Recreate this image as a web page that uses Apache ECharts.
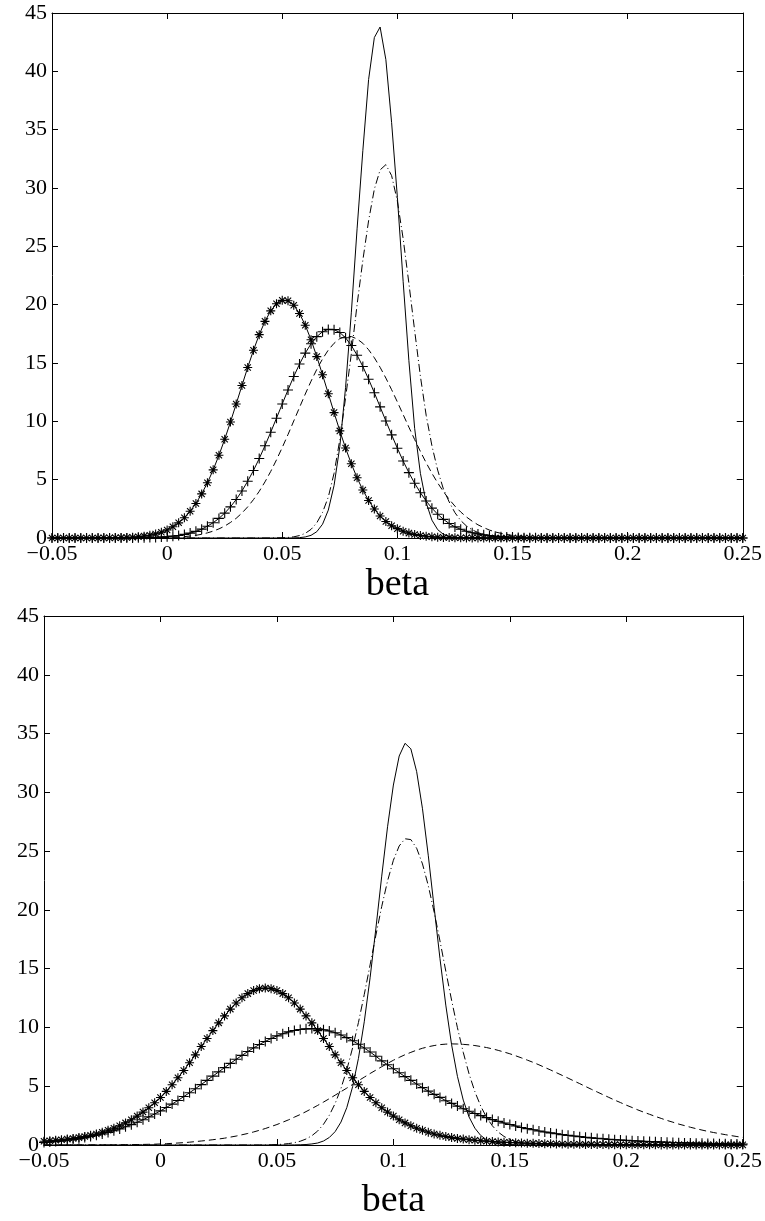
<!DOCTYPE html>
<html>
<head>
<meta charset="utf-8">
<script src="https://cdn.jsdelivr.net/npm/echarts@6/dist/echarts.min.js"></script>
<style>
html,body{margin:0;padding:0;background:#fff;}
#chart{width:765px;height:1221px;}
</style>
</head>
<body>
<div id="chart"></div>
<script>
// sample positions (beta)
const betaGrid = [
-0.05,-0.0475,-0.045,-0.0425,-0.04,-0.0375,-0.035,-0.0325,-0.03,-0.0275,
-0.025,-0.0225,-0.02,-0.0175,-0.015,-0.0125,-0.01,-0.0075,-0.005,-0.0025,
0,0.0025,0.005,0.0075,0.01,0.0125,0.015,0.0175,0.02,0.0225,
0.025,0.0275,0.03,0.0325,0.035,0.0375,0.04,0.0425,0.045,0.0475,
0.05,0.0525,0.055,0.0575,0.06,0.0625,0.065,0.0675,0.07,0.0725,
0.075,0.0775,0.08,0.0825,0.085,0.0875,0.09,0.0925,0.095,0.0975,
0.1,0.1025,0.105,0.1075,0.11,0.1125,0.115,0.1175,0.12,0.1225,
0.125,0.1275,0.13,0.1325,0.135,0.1375,0.14,0.1425,0.145,0.1475,
0.15,0.1525,0.155,0.1575,0.16,0.1625,0.165,0.1675,0.17,0.1725,
0.175,0.1775,0.18,0.1825,0.185,0.1875,0.19,0.1925,0.195,0.1975,
0.2,0.2025,0.205,0.2075,0.21,0.2125,0.215,0.2175,0.22,0.2225,
0.225,0.2275,0.23,0.2325,0.235,0.2375,0.24,0.2425,0.245,0.2475,
0.25];

const xTicks = [-0.05, 0, 0.05, 0.1, 0.15, 0.2, 0.25];
const yTicks = [0, 5, 10, 15, 20, 25, 30, 35, 40, 45];

// ---------- top panel ----------
const topStar = [
0,0,0,0,0,0,0,0,0,0.01,
0.01,0.02,0.03,0.05,0.07,0.11,0.16,0.24,0.35,0.49,
0.69,0.96,1.30,1.74,2.29,2.96,3.78,4.73,5.84,7.09,
8.46,9.94,11.49,13.07,14.62,16.09,17.43,18.57,19.47,20.08,
20.37,20.34,19.95,19.24,18.24,16.99,15.55,13.99,12.37,10.75,
9.18,7.71,6.36,5.16,4.11,3.22,2.48,1.88,1.42,1.05,
0.80,0.58,0.42,0.30,0.21,0.15,0.10,0.07,0.05,0.04,
0.02,0.02,0.01,0.01,0.01,0,0,0,0,0,
0,0,0,0,0,0,0,0,0,0,
0,0,0,0,0,0,0,0,0,0,
0,0,0,0,0,0,0,0,0,0,
0,0,0,0,0,0,0,0,0,0,
0];
const topPlus = [
0,0,0,0,0,0,0,0,0,0,
0,0,0,0.01,0.01,0.02,0.02,0.04,0.05,0.08,
0.11,0.16,0.22,0.31,0.42,0.57,0.76,1.01,1.31,1.68,
2.13,2.67,3.30,4.03,4.87,5.79,6.81,7.91,9.07,10.27,
11.49,12.69,13.84,14.91,15.85,16.65,17.26,17.68,17.88,17.86,
17.61,17.16,16.50,15.67,14.70,13.61,12.45,11.24,10.03,8.84,
7.69,6.60,5.60,4.69,3.88,3.17,2.56,2.04,1.60,1.24,
0.95,0.75,0.58,0.45,0.35,0.27,0.20,0.15,0.11,0.08,
0.06,0.04,0.03,0.02,0.02,0.01,0.01,0.01,0,0,
0,0,0,0,0,0,0,0,0,0,
0,0,0,0,0,0,0,0,0,0,
0,0,0,0,0,0,0,0,0,0,
0];
const topDashed = [
0,0,0,0,0,0,0,0,0,0,
0,0,0,0,0,0,0.01,0.01,0.02,0.03,
0.04,0.06,0.08,0.12,0.17,0.23,0.32,0.44,0.59,0.78,
1.02,1.33,1.69,2.14,2.67,3.29,4.00,4.81,5.71,6.70,
7.76,8.87,10.03,11.19,12.34,13.44,14.45,15.35,16.11,16.69,
17.09,17.28,17.27,17.06,16.69,16.14,15.45,14.63,13.71,12.71,
11.66,10.58,9.50,8.44,7.42,6.45,5.55,4.72,3.98,3.31,
2.73,2.23,1.80,1.44,1.13,0.89,0.68,0.52,0.40,0.30,
0.22,0.16,0.12,0.08,0.06,0.04,0.03,0.02,0.01,0.01,
0,0,0,0,0,0,0,0,0,0,
0,0,0,0,0,0,0,0,0,0,
0,0,0,0,0,0,0,0,0,0,
0];
const topSolid = [
0,0,0,0,0,0,0,0,0,0,
0,0,0,0,0,0,0,0,0,0,
0,0,0,0,0,0,0,0,0,0,
0,0,0,0,0,0,0,0,0,0,
0,0,0.01,0.03,0.09,0.23,0.54,1.18,2.39,4.50,
7.83,12.9,19.3,26.5,33.2,39.3,42.9,43.8,41.0,35.6,
29.2,22.0,15.2,9.4,5.54,3.03,1.53,0.72,0.31,0.13,
0.05,0.02,0.01,0,0,0,0,0,0,0,
0,0,0,0,0,0,0,0,0,0,
0,0,0,0,0,0,0,0,0,0,
0,0,0,0,0,0,0,0,0,0,
0,0,0,0,0,0,0,0,0,0,
0];
const topDashDot = [
0,0,0,0,0,0,0,0,0,0,
0,0,0,0,0,0,0,0,0,0,
0,0,0,0,0,0,0,0,0,0,
0,0,0,0,0,0,0,0,0,0.01,
0.02,0.05,0.10,0.21,0.40,0.74,1.30,2.19,3.51,5.54,
8.43,12.0,15.8,20.0,23.8,27.2,29.9,31.55,32.0,31.06,
28.87,25.67,21.84,17.78,13.86,10.52,7.91,5.82,4.19,3.09,
2.17,1.50,1.03,0.70,0.47,0.29,0.19,0.12,0.08,0.05,
0.03,0.02,0.01,0,0,0,0,0,0,0,
0,0,0,0,0,0,0,0,0,0,
0,0,0,0,0,0,0,0,0,0,
0,0,0,0,0,0,0,0,0,0,
0];

// ---------- bottom panel ----------
const botStar = [
0.32,0.36,0.40,0.45,0.50,0.56,0.63,0.72,0.83,0.94,
1.08,1.25,1.42,1.64,1.88,2.15,2.46,2.80,3.17,3.59,
4.04,4.56,5.13,5.72,6.34,7.00,7.67,8.38,9.06,9.73,
10.39,10.98,11.56,12.08,12.52,12.88,13.14,13.30,13.35,13.30,
13.14,12.88,12.52,12.08,11.56,10.98,10.39,9.73,9.06,8.38,
7.67,7.00,6.34,5.72,5.13,4.56,4.04,3.59,3.17,2.80,
2.46,2.15,1.88,1.64,1.42,1.25,1.08,0.94,0.83,0.72,
0.63,0.56,0.50,0.45,0.40,0.36,0.32,0.29,0.26,0.23,
0.21,0.19,0.17,0.15,0.14,0.12,0.11,0.10,0.09,0.08,
0.07,0.06,0.06,0.05,0.05,0.04,0.04,0.03,0.03,0.03,
0.02,0.02,0.02,0.02,0.02,0.02,0.01,0.01,0.01,0.01,
0.01,0.01,0.01,0.01,0.01,0.01,0.01,0.01,0.01,0.01,
0.01];
const botPlus = [
0.21,0.25,0.30,0.35,0.40,0.47,0.54,0.63,0.72,0.83,
0.94,1.07,1.21,1.37,1.55,1.73,1.93,2.15,2.39,2.64,
2.90,3.19,3.48,3.79,4.12,4.45,4.79,5.14,5.50,5.86,
6.22,6.58,6.94,7.29,7.62,7.95,8.26,8.55,8.81,9.06,
9.28,9.46,9.62,9.74,9.83,9.88,9.90,9.88,9.81,9.70,
9.55,9.36,9.13,8.87,8.57,8.25,7.91,7.55,7.16,6.83,
6.49,6.15,5.82,5.50,5.19,4.88,4.58,4.31,4.05,3.77,
3.54,3.31,3.09,2.87,2.68,2.50,2.33,2.16,2.01,1.87,
1.74,1.61,1.49,1.39,1.30,1.19,1.11,1.03,0.96,0.88,
0.82,0.76,0.71,0.65,0.61,0.56,0.53,0.48,0.45,0.42,
0.39,0.36,0.34,0.31,0.29,0.27,0.25,0.23,0.21,0.20,
0.18,0.17,0.15,0.14,0.13,0.12,0.11,0.10,0.09,0.09,
0.08];
const botDashed = [
0,0,0,0,0,0,0,0,0,0,
0.01,0.01,0.01,0.02,0.02,0.03,0.04,0.05,0.06,0.07,
0.09,0.11,0.14,0.17,0.20,0.24,0.29,0.34,0.39,0.45,
0.51,0.58,0.67,0.76,0.87,0.98,1.11,1.25,1.40,1.57,
1.74,1.94,2.14,2.37,2.59,2.84,3.10,3.37,3.65,3.94,
4.24,4.54,4.84,5.15,5.47,5.77,6.08,6.37,6.66,6.94,
7.21,7.45,7.68,7.88,8.07,8.23,8.36,8.46,8.54,8.58,
8.60,8.59,8.56,8.52,8.46,8.38,8.29,8.18,8.05,7.91,
7.76,7.59,7.41,7.22,7.03,6.82,6.60,6.38,6.15,5.92,
5.69,5.45,5.22,4.98,4.74,4.51,4.28,4.05,3.82,3.61,
3.39,3.19,2.98,2.79,2.61,2.43,2.26,2.09,1.94,1.78,
1.65,1.51,1.39,1.27,1.16,1.06,0.97,0.88,0.80,0.72,
0.65];
const botSolid = [
0,0,0,0,0,0,0,0,0,0,
0,0,0,0,0,0,0,0,0,0,
0,0,0,0,0,0,0,0,0,0,
0,0,0,0,0,0,0,0,0,0,
0,0,0,0.01,0.02,0.04,0.09,0.17,0.34,0.64,
1.14,1.95,3.18,4.96,7.37,10.48,14.22,18.45,22.87,27.07,
30.62,33.09,34.17,33.70,31.76,28.60,24.60,20.21,15.87,11.90,
8.53,5.84,3.82,2.38,1.43,0.81,0.44,0.23,0.11,0.05,
0.02,0.01,0,0,0,0,0,0,0,0,
0,0,0,0,0,0,0,0,0,0,
0,0,0,0,0,0,0,0,0,0,
0,0,0,0,0,0,0,0,0,0,
0];
const botDashDot = [
0,0,0,0,0,0,0,0,0,0,
0,0,0,0,0,0,0,0,0,0,
0,0,0,0,0,0,0,0,0,0,
0,0,0,0,0,0,0,0,0.01,0.02,
0.04,0.07,0.12,0.20,0.32,0.51,0.79,1.19,1.76,2.53,
3.53,4.81,6.40,8.27,10.42,12.80,15.32,17.86,20.29,22.46,
24.22,25.44,26.05,25.98,25.24,23.91,22.05,19.82,17.36,14.80,
12.31,9.98,7.88,6.05,4.53,3.31,2.35,1.63,1.10,0.73,
0.46,0.29,0.18,0.11,0.06,0.04,0.02,0.01,0,0,
0,0,0,0,0,0,0,0,0,0,
0,0,0,0,0,0,0,0,0,0,
0,0,0,0,0,0,0,0,0,0,
0];

const FONT = "'Liberation Serif','Times New Roman',serif";
const PLUS = 'path://M0,5L10,5M5,0L5,10';
const STAR = 'path://M0,5L10,5M5,0L5,10M1.5,1.5L8.5,8.5M1.5,8.5L8.5,1.5';

function pairs(vals){ return betaGrid.map((x,i)=>[x, vals[i]]); }

function fmtX(v){
  const s = String(Math.round(v*100)/100);
  return s.replace('-', '\u2212');
}

function axesFor(gi, nameGap){
  const common = {
    gridIndex: gi, type:'value', min:-0.05, max:0.25, interval:0.05,
    axisLine:{show:true, onZero:false, lineStyle:{color:'#000', width:1}},
    axisTick:{show:true, inside:true, length:6, lineStyle:{color:'#000', width:1}},
    splitLine:{show:false}
  };
  const xs = [
    Object.assign({}, common, {
      position:'bottom',
      axisLabel:{show:true, color:'#000', fontFamily:FONT, fontSize:22, margin:5, formatter:fmtX},
      name:'beta', nameLocation:'middle', nameGap:nameGap,
      nameTextStyle:{color:'#000', fontFamily:FONT, fontSize:38}
    }),
    Object.assign({}, common, {position:'top', axisLabel:{show:false}})
  ];
  const ycommon = {
    gridIndex: gi, type:'value', min:0, max:45, interval:5,
    axisLine:{show:true, onZero:false, lineStyle:{color:'#000', width:1}},
    axisTick:{show:true, inside:true, length:6, lineStyle:{color:'#000', width:1}},
    splitLine:{show:false}
  };
  const ys = [
    Object.assign({}, ycommon, {position:'left',
      axisLabel:{show:true, color:'#000', fontFamily:FONT, fontSize:22, margin:5}}),
    Object.assign({}, ycommon, {position:'right', axisLabel:{show:false}})
  ];
  return {xs, ys};
}

const a0 = axesFor(0, 25), a1 = axesFor(1, 37);

function line(name, vals, xi, yi, type, symbol, size){
  const s = {
    name, type:'line', xAxisIndex:xi, yAxisIndex:yi, data:pairs(vals),
    smooth:false, animation:false,
    lineStyle:{color:'#000', width:1, type:type||'solid'},
    itemStyle:{color:'rgba(0,0,0,0)', borderColor:'#000', borderWidth:1.1},
    emphasis:{disabled:true}
  };
  if(symbol){ s.showSymbol = true; s.symbol = symbol; s.symbolSize = size; }
  else { s.showSymbol = false; s.symbol = 'none'; }
  return s;
}

const DASH = [7,4];
const DASHDOT = [8,3,1,3];

const option = {
  backgroundColor:'#fff',
  animation:false,
  grid:[
    {left:52, top:13, width:693, height:525},
    {left:44, top:616, width:701, height:538}
  ],
  xAxis:[a0.xs[0], a0.xs[1], a1.xs[0], a1.xs[1]],
  yAxis:[a0.ys[0], a0.ys[1], a1.ys[0], a1.ys[1]],
  series:[
    line('top dashed', topDashed, 0, 0, DASH),
    line('top dash-dot', topDashDot, 0, 0, DASHDOT),
    line('top solid', topSolid, 0, 0, 'solid'),
    line('top plus', topPlus, 0, 0, 'solid', PLUS, 10),
    line('top star', topStar, 0, 0, 'solid', STAR, 9),
    line('bottom dashed', botDashed, 2, 2, DASH),
    line('bottom dash-dot', botDashDot, 2, 2, DASHDOT),
    line('bottom solid', botSolid, 2, 2, 'solid'),
    line('bottom plus', botPlus, 2, 2, 'solid', PLUS, 10),
    line('bottom star', botStar, 2, 2, 'solid', STAR, 9)
  ]
};

const chart = echarts.init(document.getElementById('chart'), null, {renderer:'canvas'});
chart.setOption(option);
</script>
</body>
</html>
